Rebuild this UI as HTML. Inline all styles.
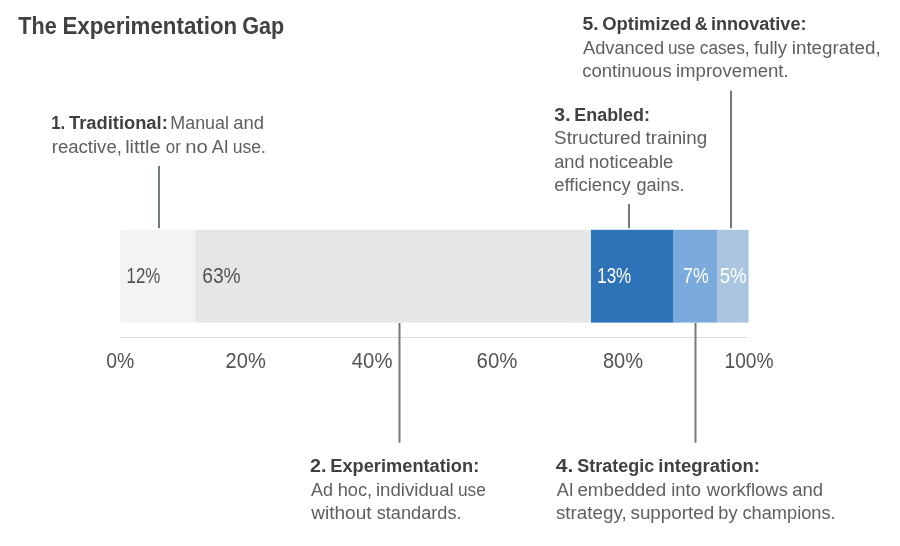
<!DOCTYPE html>
<html lang="en">
<head>
<meta charset="utf-8">
<title>The Experimentation Gap</title>
<style>
html,body{margin:0;padding:0;background:#fff;}
body{width:900px;height:546px;overflow:hidden;}
svg{display:block;}
text{font-family:"Liberation Sans",Arial,sans-serif;}
.t{font-weight:bold;font-size:24px;fill:#3f4143;}
.b{font-weight:bold;font-size:18.3px;fill:#3f4042;}
.r{font-size:18.3px;fill:#5d5f61;}
.ax{font-size:21.2px;fill:#505254;}
.v{font-size:21.3px;fill:#505254;}
.w{font-size:21.3px;fill:#ffffff;}
.ld{fill:#74797b;}
</style>
</head>
<body>
<svg width="900" height="546" viewBox="0 0 900 546">
<rect width="900" height="546" fill="#ffffff"/>

<!-- stacked bar -->
<rect x="120.3" y="229.8" width="76" height="92.8" fill="#f3f3f3"/>
<rect x="195.5" y="229.8" width="396" height="92.8" fill="#e6e6e6"/>
<rect x="591" y="229.8" width="82.5" height="92.8" fill="#2e72b8"/>
<rect x="673" y="229.8" width="44.5" height="92.8" fill="#7babdc"/>
<rect x="717.2" y="229.8" width="31.4" height="92.8" fill="#a9c5e0"/>

<!-- axis -->
<rect x="120" y="337" width="627" height="1" fill="#dcdede"/>

<!-- leader lines -->
<rect class="ld" x="158" y="166" width="2" height="62.2"/>
<rect class="ld" x="628" y="204" width="2" height="24.2"/>
<rect class="ld" x="730" y="90.7" width="2" height="137.5"/>
<rect class="ld" x="398.5" y="323" width="2" height="119.7"/>
<rect class="ld" x="694.5" y="323" width="2" height="119.7"/>

<!-- text -->
<text class="t" y="33.5"><tspan x="18.36" textLength="38.28" lengthAdjust="spacingAndGlyphs">The</tspan> <tspan x="62.41" textLength="174.78" lengthAdjust="spacingAndGlyphs">Experimentation</tspan> <tspan x="242.21" textLength="41.97" lengthAdjust="spacingAndGlyphs">Gap</tspan></text>
<text class="b" y="128.8"><tspan x="51.14" textLength="14.02" lengthAdjust="spacingAndGlyphs">1.</tspan> <tspan x="68.99" textLength="98.77" lengthAdjust="spacingAndGlyphs">Traditional:</tspan></text>
<text class="r" y="128.8"><tspan x="170.33" textLength="58.66" lengthAdjust="spacingAndGlyphs">Manual</tspan> <tspan x="233.22" textLength="30.77" lengthAdjust="spacingAndGlyphs">and</tspan></text>
<text class="r" y="152.6"><tspan x="51.77" textLength="70.10" lengthAdjust="spacingAndGlyphs">reactive,</tspan> <tspan x="125.15" textLength="35.53" lengthAdjust="spacingAndGlyphs">little</tspan> <tspan x="165.79" textLength="14.99" lengthAdjust="spacingAndGlyphs">or</tspan> <tspan x="185.16" textLength="22.49" lengthAdjust="spacingAndGlyphs">no</tspan> <tspan x="211.76" textLength="17.11" lengthAdjust="spacingAndGlyphs">AI</tspan> <tspan x="232.66" textLength="33.14" lengthAdjust="spacingAndGlyphs">use.</tspan></text>
<text class="b" y="29.8"><tspan x="582.41" textLength="16.13" lengthAdjust="spacingAndGlyphs">5.</tspan> <tspan x="602.24" textLength="89.17" lengthAdjust="spacingAndGlyphs">Optimized</tspan> <tspan x="694.72" textLength="12.84" lengthAdjust="spacingAndGlyphs">&amp;</tspan> <tspan x="710.94" textLength="95.61" lengthAdjust="spacingAndGlyphs">innovative:</tspan></text>
<text class="r" y="53.8"><tspan x="582.96" textLength="81.21" lengthAdjust="spacingAndGlyphs">Advanced</tspan> <tspan x="667.90" textLength="27.36" lengthAdjust="spacingAndGlyphs">use</tspan> <tspan x="699.77" textLength="49.78" lengthAdjust="spacingAndGlyphs">cases,</tspan> <tspan x="753.94" textLength="33.10" lengthAdjust="spacingAndGlyphs">fully</tspan> <tspan x="791.74" textLength="88.95" lengthAdjust="spacingAndGlyphs">integrated,</tspan></text>
<text class="r" y="76.8"><tspan x="582.21" textLength="89.45" lengthAdjust="spacingAndGlyphs">continuous</tspan> <tspan x="675.95" textLength="112.74" lengthAdjust="spacingAndGlyphs">improvement.</tspan></text>
<text class="b" y="120.8"><tspan x="554.35" textLength="16.18" lengthAdjust="spacingAndGlyphs">3.</tspan> <tspan x="574.30" textLength="75.62" lengthAdjust="spacingAndGlyphs">Enabled:</tspan></text>
<text class="r" y="143.7"><tspan x="554.14" textLength="86.87" lengthAdjust="spacingAndGlyphs">Structured</tspan> <tspan x="645.52" textLength="61.70" lengthAdjust="spacingAndGlyphs">training</tspan></text>
<text class="r" y="167.6"><tspan x="554.22" textLength="30.45" lengthAdjust="spacingAndGlyphs">and</tspan> <tspan x="588.77" textLength="84.56" lengthAdjust="spacingAndGlyphs">noticeable</tspan></text>
<text class="r" y="190.6"><tspan x="554.22" textLength="76.52" lengthAdjust="spacingAndGlyphs">efficiency</tspan> <tspan x="636.44" textLength="48.21" lengthAdjust="spacingAndGlyphs">gains.</tspan></text>
<text class="b" y="472.4"><tspan x="310.12" textLength="16.44" lengthAdjust="spacingAndGlyphs">2.</tspan> <tspan x="330.28" textLength="148.97" lengthAdjust="spacingAndGlyphs">Experimentation:</tspan></text>
<text class="r" y="496.1"><tspan x="310.96" textLength="21.99" lengthAdjust="spacingAndGlyphs">Ad</tspan> <tspan x="337.74" textLength="34.40" lengthAdjust="spacingAndGlyphs">hoc,</tspan> <tspan x="375.95" textLength="77.80" lengthAdjust="spacingAndGlyphs">individual</tspan> <tspan x="457.88" textLength="27.89" lengthAdjust="spacingAndGlyphs">use</tspan></text>
<text class="r" y="518.8"><tspan x="311.23" textLength="60.41" lengthAdjust="spacingAndGlyphs">without</tspan> <tspan x="376.69" textLength="84.97" lengthAdjust="spacingAndGlyphs">standards.</tspan></text>
<text class="b" y="472.4"><tspan x="555.88" textLength="17.57" lengthAdjust="spacingAndGlyphs">4.</tspan> <tspan x="577.28" textLength="76.94" lengthAdjust="spacingAndGlyphs">Strategic</tspan> <tspan x="658.31" textLength="101.67" lengthAdjust="spacingAndGlyphs">integration:</tspan></text>
<text class="r" y="496.1"><tspan x="556.76" textLength="17.11" lengthAdjust="spacingAndGlyphs">AI</tspan> <tspan x="577.40" textLength="88.81" lengthAdjust="spacingAndGlyphs">embedded</tspan> <tspan x="671.27" textLength="29.71" lengthAdjust="spacingAndGlyphs">into</tspan> <tspan x="706.83" textLength="81.04" lengthAdjust="spacingAndGlyphs">workflows</tspan> <tspan x="792.22" textLength="30.77" lengthAdjust="spacingAndGlyphs">and</tspan></text>
<text class="r" y="518.8"><tspan x="555.98" textLength="70.71" lengthAdjust="spacingAndGlyphs">strategy,</tspan> <tspan x="630.48" textLength="83.74" lengthAdjust="spacingAndGlyphs">supported</tspan> <tspan x="718.33" textLength="19.21" lengthAdjust="spacingAndGlyphs">by</tspan> <tspan x="742.43" textLength="93.24" lengthAdjust="spacingAndGlyphs">champions.</tspan></text>
<text class="v" y="283"><tspan x="126.51" textLength="33.79" lengthAdjust="spacingAndGlyphs">12%</tspan></text>
<text class="v" y="283"><tspan x="202.22" textLength="38.46" lengthAdjust="spacingAndGlyphs">63%</tspan></text>
<text class="w" y="283"><tspan x="597.21" textLength="34.00" lengthAdjust="spacingAndGlyphs">13%</tspan></text>
<text class="w" y="283"><tspan x="683.09" textLength="25.64" lengthAdjust="spacingAndGlyphs">7%</tspan></text>
<text class="w" y="283"><tspan x="719.65" textLength="27.01" lengthAdjust="spacingAndGlyphs">5%</tspan></text>
<text class="ax" y="368.2"><tspan x="106.24" textLength="28.05" lengthAdjust="spacingAndGlyphs">0%</tspan></text>
<text class="ax" y="368.2"><tspan x="225.59" textLength="40.12" lengthAdjust="spacingAndGlyphs">20%</tspan></text>
<text class="ax" y="368.2"><tspan x="351.83" textLength="40.59" lengthAdjust="spacingAndGlyphs">40%</tspan></text>
<text class="ax" y="368.2"><tspan x="476.57" textLength="40.76" lengthAdjust="spacingAndGlyphs">60%</tspan></text>
<text class="ax" y="368.2"><tspan x="602.93" textLength="40.19" lengthAdjust="spacingAndGlyphs">80%</tspan></text>
<text class="ax" y="368.2"><tspan x="724.54" textLength="48.94" lengthAdjust="spacingAndGlyphs">100%</tspan></text>
</svg>
</body>
</html>
